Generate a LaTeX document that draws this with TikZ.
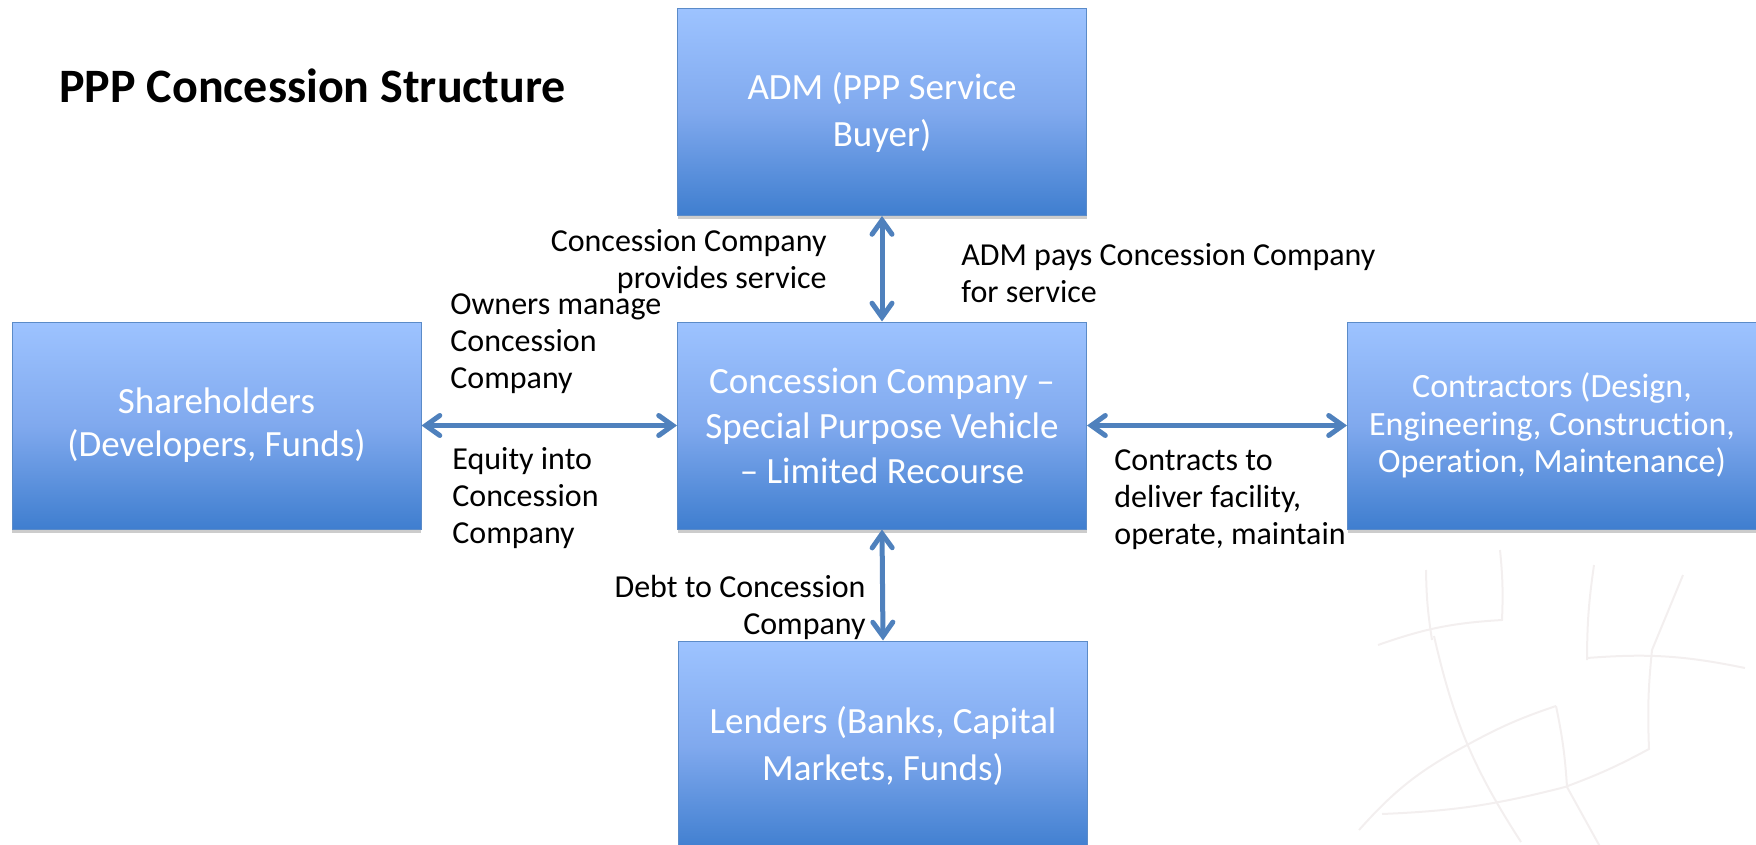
\documentclass[tikz,border=0pt]{standalone}
\usepackage{fontspec}
\setmainfont{Carlito}[Ligatures=NoCommon]
\usetikzlibrary{arrows.meta,shadows}
\definecolor{arrowblue}{HTML}{4F81BD}
\definecolor{boxtop}{HTML}{9DC3FF}
\definecolor{boxmid}{HTML}{80A9EE}
\definecolor{boxbot}{HTML}{3F7ECF}
\definecolor{boxline}{HTML}{5B8BC8}
\definecolor{wmark}{HTML}{F3EFEF}
\tikzset{
  pbox/.style={draw=boxline, line width=0.5pt, shading=axis, top color=boxtop, bottom color=boxbot, middle color=boxmid,
    minimum width=204.5pt, minimum height=103.5pt, inner sep=2pt, text=white, align=center,
    font=\fontsize{18.5}{22.5}\selectfont,
    drop shadow={shadow xshift=0pt, shadow yshift=-2pt, opacity=0.2, fill=black}},
  lbl/.style={inner sep=0pt, font=\fontsize{16}{18.5}\selectfont, text=black},
  dblarrow/.style={draw=arrowblue, line width=2.5pt, {Straight Barb[length=7pt,width=10pt,line cap=round]}-{Straight Barb[length=7pt,width=10pt,line cap=round]}},
  wm/.style={draw=wmark, line width=1pt}
}
\begin{document}
\begin{tikzpicture}[x=0.5pt,y=-0.5pt]
\useasboundingbox (0,0) rectangle (1756,845);
% faint watermark
\draw[wm] (1378,645) to[bend left=8] (1502,620) to[bend right=4] (1500,550);
\draw[wm] (1432,640) to[bend left=4] (1426,570);
\draw[wm] (1434,636) to[bend right=10] (1521,842);
\draw[wm] (1587,660) to[bend left=4] (1594,565);
\draw[wm] (1587,658) to[bend left=8] (1745,668);
\draw[wm] (1683,575) -- (1652,650) to[bend right=4] (1649,749) to[bend left=4] (1565,787) to[bend left=6] (1382,814);
\draw[wm] (1556,706) to[bend left=4] (1567,787) -- (1614,872);
\draw[wm] (1359,830) to[bend left=10] (1467,745) to[bend left=5] (1556,706);
% title
\node[anchor=base west, inner sep=0pt, font=\fontsize{24}{28}\selectfont\bfseries] (title) at (59,103) {PPP Concession Structure};
% boxes
\node[pbox, font=\fontsize{18.5}{23.5}\selectfont] (adm) at (882,112) {ADM (PPP Service\\Buyer)};
\node[pbox] (cc) at (882,425.5) {Concession Company --\\Special Purpose Vehicle\\-- Limited Recourse};
\node[pbox, minimum height=105pt, font=\fontsize{18.5}{23.5}\selectfont] (lend) at (883,746) {Lenders (Banks, Capital\\Markets, Funds)};
\node[pbox, font=\fontsize{18.5}{21.5}\selectfont] (share) at (216.5,425.5) {Shareholders\\(Developers, Funds)};
\node[pbox, font=\fontsize{17}{18.8}\selectfont] (contr) at (1552,425.5) {Contractors (Design,\\Engineering, Construction,\\Operation, Maintenance)};
% connectors
\draw[dblarrow] (adm.south) -- (cc.north);
\draw[dblarrow] (cc.south) -- (lend.north);
\draw[dblarrow] (share.east) -- (cc.west);
\draw[dblarrow] (cc.east) -- (contr.west);
% labels
\node[lbl, anchor=east, align=right] (l1) at (827,261.5) {Concession Company\\provides service};
\node[lbl, anchor=west, align=left] (l2) at (961,273.5) {ADM pays Concession Company\\for service};
\node[lbl, anchor=west, align=left] (l3) at (450,344) {Owners manage\\Concession\\Company};
\node[lbl, anchor=west, align=left] (l4) at (452,498) {Equity into\\Concession\\Company};
\node[lbl, anchor=west, align=left] (l5) at (1114,500) {Contracts to\\deliver facility,\\operate, maintain};
\node[lbl, anchor=east, align=right] (l6) at (866,607) {Debt to Concession\\Company};
\end{tikzpicture}
\end{document}
